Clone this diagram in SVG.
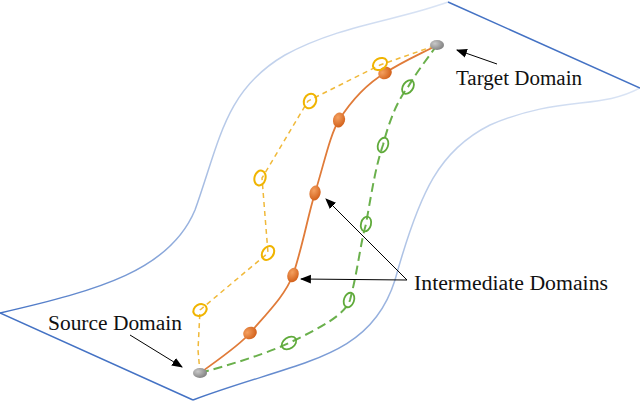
<svg xmlns="http://www.w3.org/2000/svg" width="640" height="402" viewBox="0 0 640 402">
<defs>
<linearGradient id="gt" gradientUnits="userSpaceOnUse" x1="0" y1="313" x2="448" y2="2"><stop offset="0" stop-color="#4472c4"/><stop offset="0.5" stop-color="#b4c7e7"/><stop offset="1" stop-color="#dbe5f5"/></linearGradient>
<linearGradient id="gb" gradientUnits="userSpaceOnUse" x1="193" y1="400" x2="640" y2="88"><stop offset="0" stop-color="#4472c4"/><stop offset="0.5" stop-color="#b4c7e7"/><stop offset="1" stop-color="#dbe5f5"/></linearGradient>
<radialGradient id="og" cx="0.35" cy="0.35" r="0.7"><stop offset="0" stop-color="#f4a060"/><stop offset="1" stop-color="#d2601a"/></radialGradient>
<radialGradient id="gg" cx="0.35" cy="0.35" r="0.7"><stop offset="0" stop-color="#c8c8c8"/><stop offset="1" stop-color="#808080"/></radialGradient>
<marker id="ah" viewBox="0 0 10 10" refX="9" refY="5" markerWidth="11" markerHeight="11" orient="auto"><path d="M0,1 L10,5 L0,9 Z" fill="#000"/></marker>
</defs>
<style>
.t{font-family:"Liberation Serif",serif;font-size:20px;fill:#111}
.y{fill:none;stroke:#f0b400;stroke-width:2}
.gr{fill:none;stroke:#5faa3a;stroke-width:1.8}
.o{fill:url(#og)}
.a{stroke:#000;stroke-width:1;fill:none;marker-end:url(#ah)}
</style>
<g id="surface" fill="none" stroke-width="1.5">
<path d="M0,313 C100,290 170,270 195,210 C220,140 225,90 285,55 C340,25 400,20 448,2" stroke="url(#gt)"/>
<path d="M193,400 C300,360 370,360 395,280 C420,190 440,150 490,125 C560,95 600,110 640,88" stroke="url(#gb)"/>
<path d="M0,313 L193,400 M448,2 L640,88" stroke="#4472c4"/>
</g>
<g id="connectors">
<path d="M200,373 C215,362 240,345 250,333 C270,310 285,295 293,275 C303,245 308,215 315,193 C325,160 330,135 339,120 C355,95 370,82 385,73 C405,60 425,52 437,45" fill="none" stroke="#e07b39" stroke-width="1.8"/>
<path d="M200,373 L198,350 L200,310 L268,253 L262,178 L308,101 L380,65 L437,45" fill="none" stroke="#f0b93a" stroke-width="1.5" stroke-dasharray="5,4"/>
<path d="M200,373 C240,362 270,352 289,343 C320,328 345,315 350,300 C358,270 360,245 366,224 C372,190 376,165 383,145 C390,118 398,100 408,87 C418,70 428,58 437,45" fill="none" stroke="#6ab04c" stroke-width="2" stroke-dasharray="9,5"/>
<path class="a" d="M497,64 L457,50"/>
<path class="a" d="M130,335 L182,367"/>
<path class="a" d="M407,280 L326,199"/>
<path class="a" d="M407,280 L301,279"/>
</g>
<g id="source"><ellipse cx="200" cy="373" rx="7" ry="5" fill="url(#gg)"/></g>
<g id="target"><ellipse cx="437" cy="45" rx="7" ry="5" fill="url(#gg)"/></g>
<g id="orange">
<ellipse class="o" cx="250" cy="333" rx="7" ry="6" transform="rotate(-30 250 333)"/>
<ellipse class="o" cx="293" cy="275" rx="5.5" ry="7.5" transform="rotate(20 293 275)"/>
<ellipse class="o" cx="315" cy="193" rx="5.5" ry="7.5" transform="rotate(15 315 193)"/>
<ellipse class="o" cx="339" cy="120" rx="6" ry="7.5" transform="rotate(15 339 120)"/>
<ellipse class="o" cx="385" cy="73" rx="7" ry="6" transform="rotate(-30 385 73)"/>
</g>
<g id="yellow">
<ellipse class="y" cx="200" cy="310" rx="7" ry="5.5" transform="rotate(-30 200 310)"/>
<ellipse class="y" cx="268" cy="253" rx="5.5" ry="7.5" transform="rotate(35 268 253)"/>
<ellipse class="y" cx="260" cy="178" rx="5.5" ry="7.5" transform="rotate(15 260 178)"/>
<ellipse class="y" cx="310" cy="101" rx="6" ry="7.5" transform="rotate(25 310 101)"/>
<ellipse class="y" cx="380" cy="64" rx="7.5" ry="5.5" transform="rotate(-30 380 64)"/>
</g>
<g id="green">
<ellipse class="gr" cx="289" cy="343" rx="8" ry="5.5" transform="rotate(-35 289 343)"/>
<ellipse class="gr" cx="349" cy="300" rx="5" ry="7.5" transform="rotate(20 349 300)"/>
<ellipse class="gr" cx="366" cy="224" rx="5" ry="7.5" transform="rotate(15 366 224)"/>
<ellipse class="gr" cx="383" cy="145" rx="5" ry="7.5" transform="rotate(20 383 145)"/>
<ellipse class="gr" cx="408" cy="87" rx="5" ry="7.5" transform="rotate(35 408 87)"/>
</g>
<g id="labels">
<text class="t" x="456" y="85" textLength="126" lengthAdjust="spacingAndGlyphs">Target Domain</text>
<text class="t" x="414" y="290" textLength="194" lengthAdjust="spacingAndGlyphs">Intermediate Domains</text>
<text class="t" x="48" y="330" textLength="134" lengthAdjust="spacingAndGlyphs">Source Domain</text>
</g>
</svg>
